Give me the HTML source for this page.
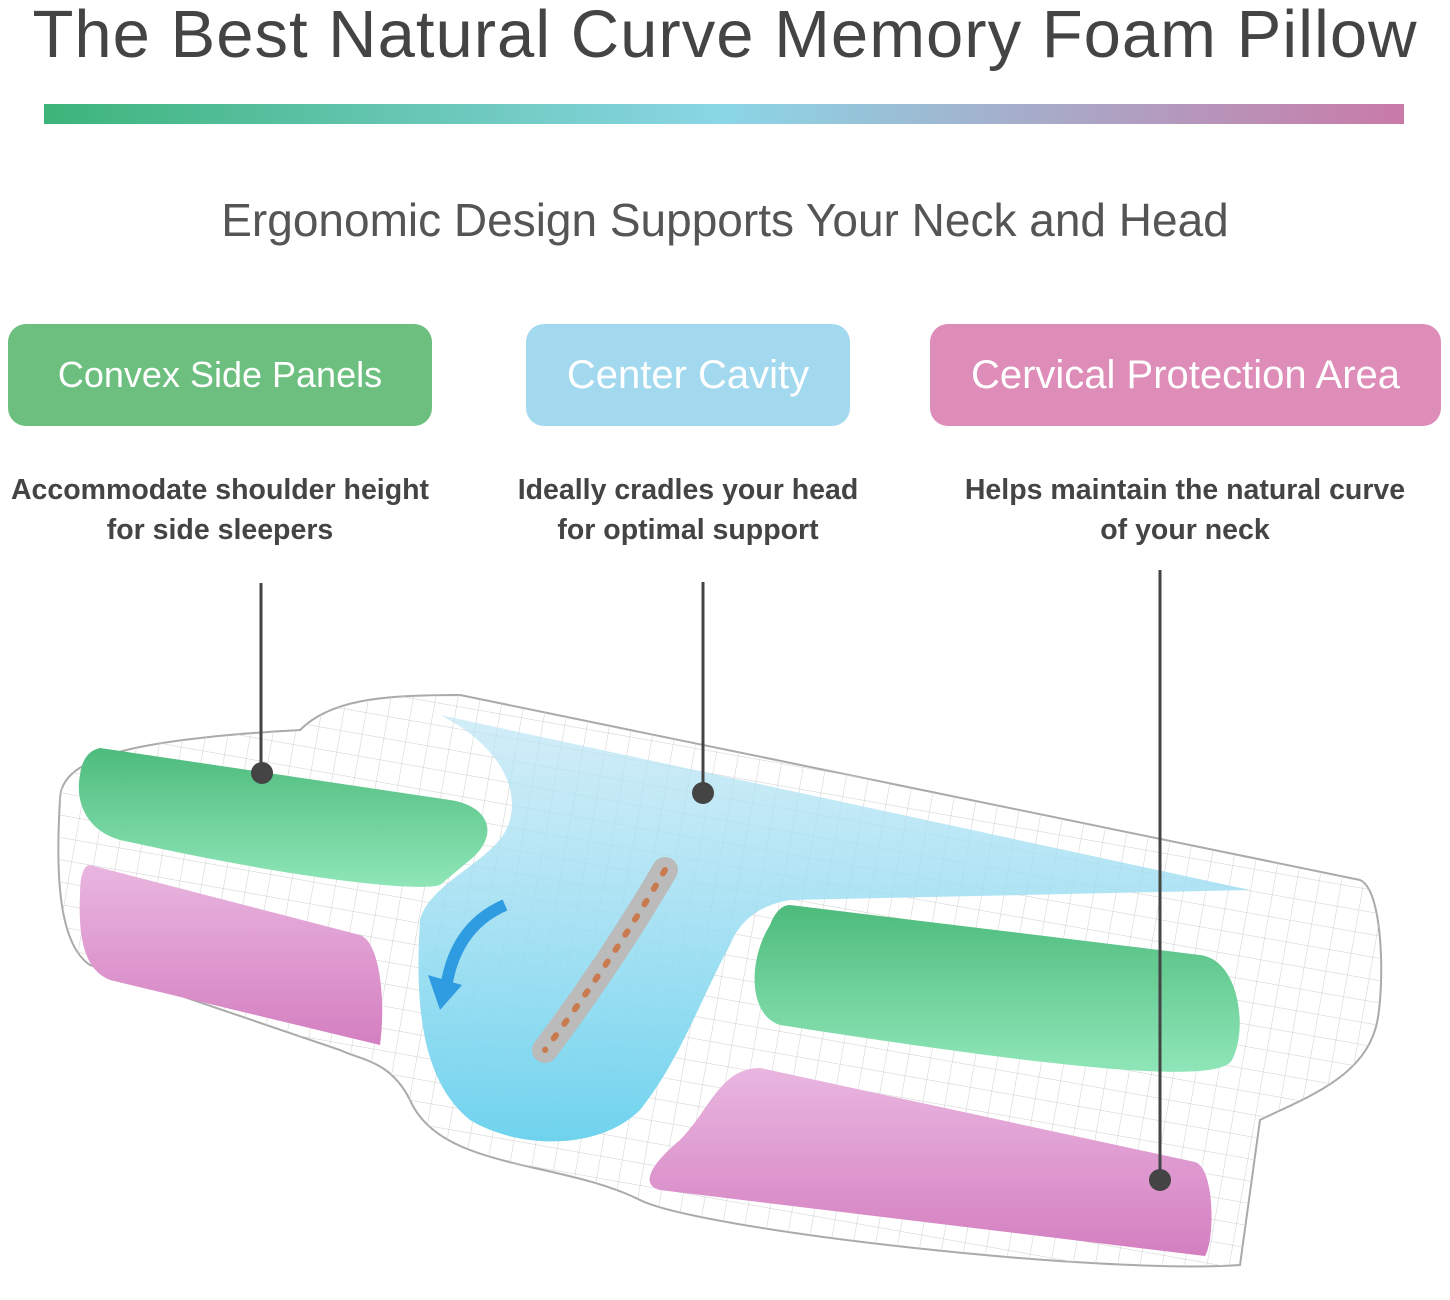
<!DOCTYPE html>
<html><head><meta charset="utf-8"><style>
html,body{margin:0;padding:0;background:#fff;}
body{width:1450px;height:1300px;position:relative;overflow:hidden;font-family:"Liberation Sans","DejaVu Sans",sans-serif;}
.t{position:absolute;left:0;width:1450px;text-align:center;color:#444;}
.box{position:absolute;height:102px;border-radius:18px;color:#fff;font-size:36px;display:flex;align-items:center;justify-content:center;}
.d{position:absolute;text-align:center;font-weight:bold;font-size:28.5px;line-height:40px;color:#444;}
</style></head><body>
<div class="t" style="top:-4px;font-size:67px;letter-spacing:1px;">The Best Natural Curve Memory Foam Pillow</div>
<div style="position:absolute;left:44px;top:104px;width:1360px;height:20px;background:linear-gradient(90deg,#3db47a,#8ad6e6 50%,#c97aa8);"></div>
<div class="t" style="top:193px;font-size:46px;color:#555;">Ergonomic Design Supports Your Neck and Head</div>
<div class="box" style="left:8px;top:324px;width:424px;background:#6cbf7e;">Convex Side Panels</div>
<div class="box" style="left:526px;top:324px;width:324px;background:#a2d9ef;font-size:40px;">Center Cavity</div>
<div class="box" style="left:930px;top:324px;width:511px;background:#de8cb8;font-size:40px;">Cervical Protection Area</div>
<div class="d" style="left:-20px;top:470px;width:480px;">Accommodate shoulder height<br>for side sleepers</div>
<div class="d" style="left:470px;top:470px;width:436px;">Ideally cradles your head<br>for optimal support</div>
<div class="d" style="left:910px;top:470px;width:550px;">Helps maintain the natural curve<br>of your neck</div>
<svg width="1450" height="1300" style="position:absolute;left:0;top:0">
<defs>
<pattern id="g" width="22" height="22" patternUnits="userSpaceOnUse" patternTransform="rotate(10)">
<path d="M0 0H22M0 0V22" stroke="#cfcfcf" stroke-width="1" fill="none"/></pattern>
<linearGradient id="gr" x1="0" y1="0" x2="0" y2="1"><stop offset="0" stop-color="#4dbb7c"/><stop offset="1" stop-color="#8fe6b8"/></linearGradient>
<linearGradient id="pk" x1="0" y1="0" x2="0" y2="1"><stop offset="0" stop-color="#e9b6e0"/><stop offset="1" stop-color="#d47fc0"/></linearGradient>
<linearGradient id="bl" x1="0" y1="0" x2="0" y2="1"><stop offset="0" stop-color="#bfe6f5" stop-opacity=".7"/><stop offset="1" stop-color="#6fd3ee"/></linearGradient>
</defs>
<path d="M60,800 C60,760 120,740 300,730 C330,700 380,695 460,695 L1360,880 C1385,890 1385,1000 1375,1030 C1360,1080 1300,1100 1260,1120 L1240,1265 C1100,1275 700,1230 640,1200 C560,1160 440,1170 410,1100 C390,1060 360,1060 340,1050 L90,965 C60,945 55,880 60,800 Z" fill="#fff" stroke="#aaa" stroke-width="2"/>
<path d="M60,800 C60,760 120,740 300,730 C330,700 380,695 460,695 L1360,880 C1385,890 1385,1000 1375,1030 C1360,1080 1300,1100 1260,1120 L1240,1265 C1100,1275 700,1230 640,1200 C560,1160 440,1170 410,1100 C390,1060 360,1060 340,1050 L90,965 C60,945 55,880 60,800 Z" fill="url(#g)"/>
<path d="M440,715 L1250,890 L790,900 C760,905 740,920 730,945 C700,1000 680,1060 640,1110 C600,1150 520,1150 470,1120 C420,1080 415,1000 420,920 C430,880 500,860 510,820 C520,780 490,740 440,715 Z" fill="url(#bl)"/>
<path d="M100,748 L450,800 C490,806 500,835 470,860 L440,885 C420,892 300,880 120,840 C85,830 75,800 80,775 C82,758 90,750 100,748 Z" fill="url(#gr)"/>
<path d="M90,865 L360,935 C380,942 386,1000 380,1045 L110,980 C85,970 78,940 80,895 C80,875 84,865 90,865 Z" fill="url(#pk)"/>
<path d="M790,905 L1200,955 C1240,960 1248,1030 1232,1060 C1220,1082 1100,1075 780,1025 C748,1015 748,960 770,925 C775,912 782,905 790,905 Z" fill="url(#gr)"/>
<path d="M760,1068 L1195,1162 C1215,1168 1215,1240 1205,1256 L660,1190 C640,1185 650,1165 680,1140 C710,1110 720,1068 760,1068 Z" fill="url(#pk)"/>
<path d="M505,905 C470,920 450,950 445,995" stroke="#2f9be0" stroke-width="12" fill="none"/>
<polygon points="428,975 462,985 440,1010" fill="#2f9be0"/>
<g stroke-linecap="round">
<path d="M665,870 C630,930 590,990 545,1050" stroke="#bbb" stroke-width="26" fill="none"/>
<path d="M665,870 C630,930 590,990 545,1050" stroke="#c97a4e" stroke-width="6" stroke-dasharray="4 14" fill="none"/>
</g>
<g stroke="#444" stroke-width="3"><line x1="261" y1="583" x2="261" y2="773"/><line x1="703" y1="582" x2="703" y2="793"/><line x1="1160" y1="570" x2="1160" y2="1180"/></g>
<g fill="#444"><circle cx="262" cy="773" r="11"/><circle cx="703" cy="793" r="11"/><circle cx="1160" cy="1180" r="11"/></g>
</svg>
</body></html>
